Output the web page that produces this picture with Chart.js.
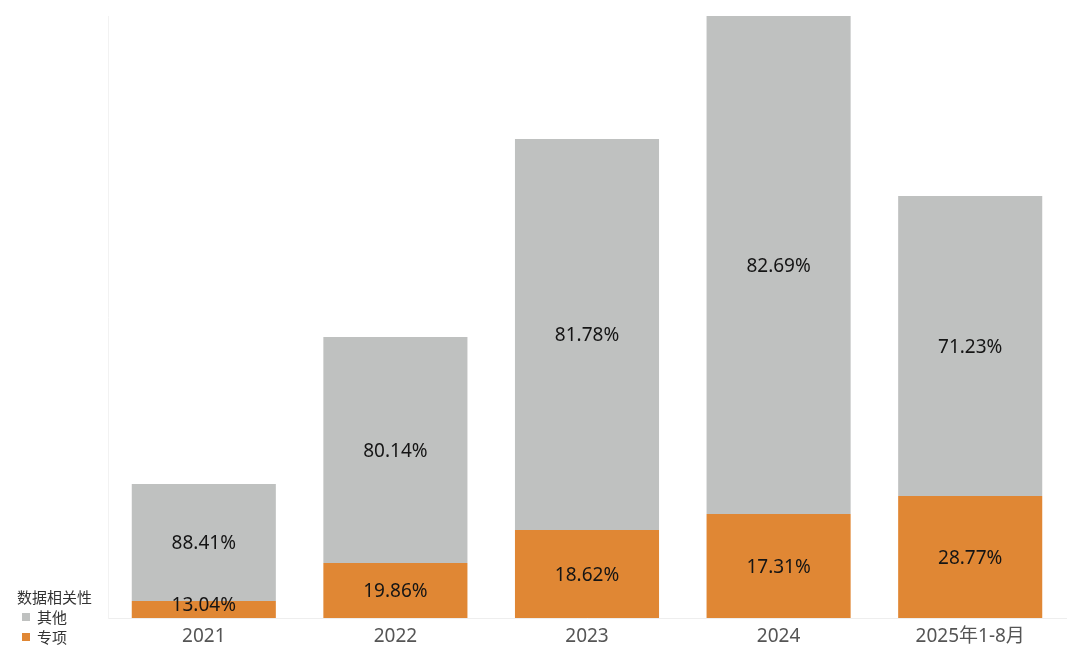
<!DOCTYPE html>
<html>
<head>
<meta charset="utf-8">
<script src="https://cdn.jsdelivr.net/npm/chart.js@4/dist/chart.umd.min.js"></script>
<style>
  html, body { margin: 0; padding: 0; background: #ffffff; }
  #wrap { position: relative; width: 1080px; height: 665px; }
  #legend { position: absolute; left: 17px; top: 587px; font-family: "Noto Sans CJK SC", "Noto Sans", sans-serif; font-size: 15px; color: #333; line-height: 20px; }
  #legend .item { display: flex; align-items: center; padding-left: 5px; }
  #legend .sw { width: 8px; height: 8px; margin-right: 7px; display: inline-block; }
</style>
</head>
<body>
<div id="wrap">
  <canvas id="c" width="1080" height="665"></canvas>
  <div id="legend"></div>
</div>
<script>
const categories = ["2021", "2022", "2023", "2024", "2025年1-8月"];
const seriesNames = ["专项", "其他"];
const specialValues = [17, 55, 88, 104, 122];
const otherValues = [117, 226, 391, 498, 300];
const specialLabels = ["13.04%", "19.86%", "18.62%", "17.31%", "28.77%"];
const otherLabels = ["88.41%", "80.14%", "81.78%", "82.69%", "71.23%"];
const legendTitle = "数据相关性";

const colorSpecial = "#E08734";
const colorOther = "#BFC1C0";

// legend (HTML text)
const lg = document.getElementById('legend');
lg.innerHTML = '<div>' + legendTitle + '</div>' +
  '<div class="item"><span class="sw" style="background:' + colorOther + '"></span>' + seriesNames[1] + '</div>' +
  '<div class="item"><span class="sw" style="background:' + colorSpecial + '"></span>' + seriesNames[0] + '</div>';

const labelPlugin = {
  id: 'segLabels',
  afterDatasetsDraw(chart) {
    const ctx = chart.ctx;
    ctx.save();
    ctx.font = '19px "Noto Sans", "Noto Sans CJK SC", sans-serif';
    ctx.fillStyle = '#151515';
    ctx.textAlign = 'center';
    ctx.textBaseline = 'middle';
    chart.data.datasets.forEach((ds, di) => {
      const meta = chart.getDatasetMeta(di);
      meta.data.forEach((bar, i) => {
        let y = (bar.y + bar.base) / 2 + 1.5;
        if (di === 0 && (bar.base - bar.y) < 24) y = bar.y + 5;
        ctx.fillText(ds.segLabels[i], bar.x, y);
      });
    });
    ctx.restore();
  }
};

new Chart(document.getElementById('c'), {
  type: 'bar',
  data: {
    labels: categories,
    datasets: [
      { label: seriesNames[0], data: specialValues, backgroundColor: colorSpecial, segLabels: specialLabels, stack: 's' },
      { label: seriesNames[1], data: otherValues, backgroundColor: colorOther, segLabels: otherLabels, stack: 's' }
    ]
  },
  options: {
    responsive: false,
    animation: false,
    layout: { padding: { left: 108, right: 14, top: 16, bottom: 0 } },
    plugins: { legend: { display: false }, tooltip: { enabled: false } },
    datasets: { bar: { categoryPercentage: 1, barPercentage: 0.752 } },
    scales: {
      x: {
        stacked: true,
        grid: { display: false, drawTicks: false },
        border: { display: true, color: '#eeeeee', width: 1 },
        ticks: { color: '#555555', padding: 7, font: { size: 19, family: '"Noto Sans", "Noto Sans CJK SC", sans-serif' } },
        afterFit(scale) { scale.height = 47; }
      },
      y: {
        stacked: true,
        min: 0,
        max: 602,
        display: true,
        grid: { display: false, drawTicks: false },
        border: { display: true, color: '#f2f2f2', width: 1 },
        ticks: { display: false },
        afterFit(scale) { scale.width = 0; }
      }
    }
  },
  plugins: [labelPlugin]
});
</script>
</body>
</html>
